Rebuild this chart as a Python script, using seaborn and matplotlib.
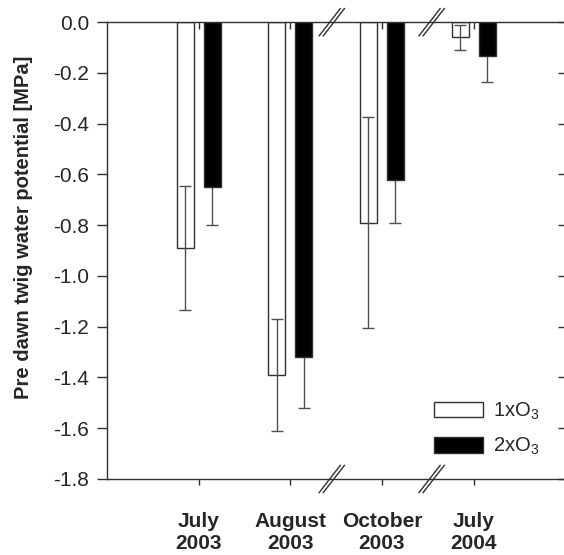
import numpy as np
import pandas as pd
import matplotlib
matplotlib.use("Agg")
import matplotlib.pyplot as plt
import matplotlib.transforms as mtransforms
from matplotlib.patches import Patch
import seaborn as sns

# ------------------------------------------------------------
# Data
# ------------------------------------------------------------
months = ["July\n2003", "August\n2003", "October\n2003", "July\n2004"]
treatments = ["1xO$_3$", "2xO$_3$"]
psi_1x = [-0.89, -1.39, -0.79, -0.06]
err_1x = [0.245, 0.22, 0.415, 0.05]
psi_2x = [-0.65, -1.32, -0.62, -0.135]
err_2x = [0.15, 0.20, 0.17, 0.10]
y_ticks = [0.0, -0.2, -0.4, -0.6, -0.8, -1.0, -1.2, -1.4, -1.6, -1.8]
break_pos = [1.45, 2.54]

df = pd.DataFrame({
    "month": months * 2,
    "treatment": [treatments[0]] * 4 + [treatments[1]] * 4,
    "psi": psi_1x + psi_2x,
    "err": err_1x + err_2x,
})

sns.set_theme(style="ticks")
plt.rcParams["font.family"] = ["Liberation Sans", "DejaVu Sans"]
plt.rcParams["mathtext.fontset"] = "custom"
plt.rcParams["mathtext.rm"] = "Liberation Sans"

fig = plt.figure(figsize=(5.64, 5.55), dpi=100)
ax = fig.add_axes([0.19, 0.137, 0.812, 0.823])

edge = "#303030"
sns.barplot(
    data=df, x="month", y="psi", hue="treatment",
    order=months, hue_order=treatments,
    palette=["white", "black"], edgecolor=edge, linewidth=1.0,
    width=0.59, gap=0.37, errorbar=None, legend=False, ax=ax,
)

# error bars at the bar centres; on the black bars the upper half
# sits behind the bar, as in the original
for cont, level, z in zip(ax.containers, treatments, (3, 0.5)):
    sub = df[df["treatment"] == level].set_index("month").loc[months]
    xs = [p.get_x() + p.get_width() / 2 for p in cont.patches]
    ax.errorbar(xs, sub["psi"], yerr=sub["err"], fmt="none",
                ecolor="#505050", elinewidth=1.0, capsize=4, capthick=1.0,
                zorder=z)

ax.set_xlim(-1, 4)
ax.set_ylim(-1.8, 0.0)
ax.set_yticks(y_ticks)
ax.set_yticklabels([f"{v:.1f}" for v in y_ticks])
ax.set_xlabel("")
ax.set_ylabel("Pre dawn twig water potential [MPa]", fontsize=14.5,
              fontweight="bold")
ax.yaxis.set_label_coords(-0.163, 0.55)

for sp in ax.spines.values():
    sp.set_visible(True)
    sp.set_color(edge)
    sp.set_linewidth(1.0)

ax.tick_params(axis="y", direction="out", length=7, width=1, pad=6,
               labelsize=15, color=edge)
ax.tick_params(axis="x", direction="out", length=4.5, width=1, pad=19,
               labelsize=15, color=edge)
for lab in ax.get_xticklabels():
    lab.set_fontweight("bold")

# inward ticks on top and right
top = ax.secondary_xaxis("top")
top.set_xticks(range(len(months)))
top.set_xticklabels([])
top.tick_params(direction="in", length=5, width=1, color=edge)
top.spines["top"].set_visible(False)
right = ax.secondary_yaxis("right")
right.set_yticks(y_ticks)
right.set_yticklabels([])
right.tick_params(direction="in", length=5, width=1, color=edge)
right.spines["right"].set_visible(False)

# axis break marks (//) on top and bottom axes
trans = mtransforms.blended_transform_factory(ax.transData, ax.transAxes)
for xb in break_pos:
    for yb in (0.0, 1.0):
        for off in (-0.02, 0.025):
            xc = xb + off
            ax.plot([xc - 0.12, xc + 0.12], [yb - 0.031, yb + 0.031],
                    transform=trans, color=edge, lw=1.0, clip_on=False,
                    solid_capstyle="butt")

handles = [Patch(facecolor="white", edgecolor=edge, linewidth=1.0),
           Patch(facecolor="black", edgecolor=edge, linewidth=1.0)]
ax.legend(handles, treatments, loc="upper left",
          bbox_to_anchor=(0.713, 0.172), frameon=False, fontsize=14.5,
          handlelength=2.45, handleheight=0.8, handletextpad=0.5,
          labelspacing=0.7, borderpad=0, borderaxespad=0)

fig.savefig("out.png", dpi=100)
